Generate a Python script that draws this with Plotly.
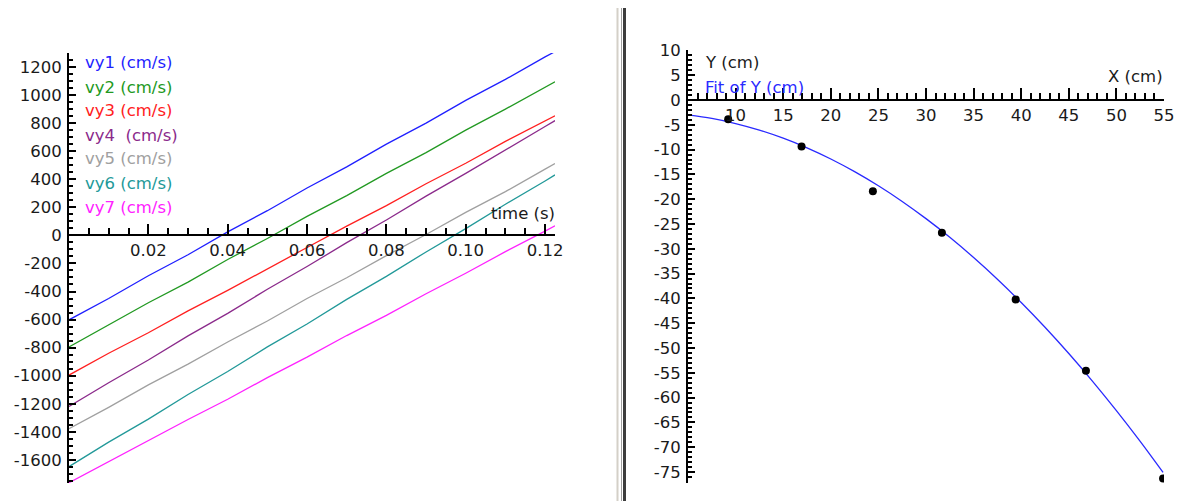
import plotly.graph_objects as go

W, H = 1177, 501

# ---------------- left panel data ----------------
t = [0.0, 0.01, 0.02, 0.03, 0.04, 0.05, 0.06, 0.07, 0.08, 0.09, 0.10, 0.11, 0.12, 0.1225]
vy1 = [-602, -450, -288, -138, 25, 176, 338, 488, 650, 800, 962, 1112, 1272, 1310]
vy2 = [-795, -640, -480, -333, -172, -22, 135, 283, 442, 590, 750, 900, 1058, 1095]
vy3 = [-996, -840, -694, -538, -392, -236, -86, 66, 212, 368, 514, 670, 818, 852]
vy4 = [-1220, -1050, -888, -716, -556, -384, -222, -52, 110, 280, 442, 612, 776, 818]
vy5 = [-1378, -1226, -1066, -918, -760, -610, -450, -302, -144, 6, 164, 312, 472, 512]
vy6 = [-1648, -1474, -1310, -1134, -970, -795, -632, -456, -292, -118, 48, 222, 388, 431]
vy7 = [-1763, -1612, -1466, -1312, -1168, -1014, -868, -714, -570, -416, -270, -116, 30, 68]
series_names = ["vy1 (cm/s)", "vy2 (cm/s)", "vy3 (cm/s)", "vy4\u00a0 (cm/s)",
                "vy5 (cm/s)", "vy6 (cm/s)", "vy7 (cm/s)"]
series_colors = ["#1f1fff", "#229922", "#ff2020", "#8b2a8b", "#a0a0a0", "#229999", "#ff22ff"]
left_xticks = [0.02, 0.04, 0.06, 0.08, 0.10, 0.12]
left_xticktext = ["0.02", "0.04", "0.06", "0.08", "0.10", "0.12"]
left_yticks = [-1600, -1400, -1200, -1000, -800, -600, -400, -200, 0, 200, 400, 600, 800, 1000, 1200]
left_yticktext = ["-1600", "-1400", "-1200", "-1000", "-800", "-600", "-400", "-200", "0",
                  "200", "400", "600", "800", "1000", "1200"]

# ---------------- right panel data ----------------
px_x = [9.22, 16.93, 24.42, 31.67, 39.42, 46.8, 54.9]
px_y = [-3.9, -9.4, -18.4, -26.75, -40.2, -54.6, -76.3]
fit_x = [5, 7.5, 10, 12.5, 15, 17.5, 20, 22.5, 25, 27.5, 30, 32.5, 35, 37.5, 40,
         42.5, 45, 47.5, 50, 52.5, 54.9]
fit_y = [-3.0, -3.72, -4.74, -6.07, -7.70, -9.64, -11.89, -14.44, -17.29, -20.45,
         -23.92, -27.68, -31.76, -36.14, -40.83, -45.82, -51.12, -56.72, -62.63,
         -68.84, -75.1]
right_xticks = [10, 15, 20, 25, 30, 35, 40, 45, 50, 55]
right_xticktext = ["10", "15", "20", "25", "30", "35", "40", "45", "50", "55"]
right_yticks = [-75, -70, -65, -60, -55, -50, -45, -40, -35, -30, -25, -20, -15, -10, -5, 0, 5, 10]
right_yticktext = ["-75", "-70", "-65", "-60", "-55", "-50", "-45", "-40", "-35", "-30",
                   "-25", "-20", "-15", "-10", "-5", "0", "5", "10"]

FONT = "DejaVu Sans, Verdana, sans-serif"
FS = 16.5
TXT = "#1a1a1a"


def fx(p):
    return p / W


def fy(p):
    return 1 - p / H


fig = go.Figure()

for ys, nm, col in zip([vy1, vy2, vy3, vy4, vy5, vy6, vy7], series_names, series_colors):
    fig.add_trace(go.Scatter(x=t, y=ys, mode="lines", name=nm,
                             line=dict(color=col, width=1.3),
                             xaxis="x", yaxis="y", showlegend=False))

fig.add_trace(go.Scatter(x=fit_x, y=fit_y, mode="lines", line=dict(color="#2a2aff", width=1.3, shape="spline"),
                         xaxis="x2", yaxis="y2", showlegend=False))
fig.add_trace(go.Scatter(x=px_x, y=px_y, mode="markers", marker=dict(color="black", size=8),
                         xaxis="x2", yaxis="y2", showlegend=False))

# left geometry
L_x0, L_x1 = 69, 555
L_top, L_bot = 53, 483
L_yr = [-1765, 1300]
L_xr = [0, 0.1225]
L_ydom = [fy(L_bot), fy(L_top)]
L_xpos = L_ydom[0] + (0 - L_yr[0]) / (L_yr[1] - L_yr[0]) * (L_ydom[1] - L_ydom[0])

# right geometry
R_x0, R_x1 = 688, 1164
R_top, R_bot = 50.4, 482.9
R_yr = [-77.2, 10]
R_xr = [5, 55]
R_ydom = [fy(R_bot), fy(R_top)]
R_xpos = R_ydom[0] + (0 - R_yr[0]) / (R_yr[1] - R_yr[0]) * (R_ydom[1] - R_ydom[0])

axis_common = dict(showgrid=False, zeroline=False, showline=True, linecolor="black", linewidth=2,
                   ticks="inside", tickcolor="black", tickwidth=1.5, automargin=False,
                   tickfont=dict(family=FONT, size=FS, color=TXT))
minor_common = dict(ticks="inside", tickcolor="black", tickwidth=1.5, showgrid=False)

fig.update_layout(
    width=W, height=H, autosize=False,
    margin=dict(l=0, r=0, t=0, b=0, pad=0),
    paper_bgcolor="white", plot_bgcolor="rgba(0,0,0,0)",
    xaxis=dict(domain=[fx(L_x0), fx(L_x1)], range=L_xr, anchor="free", position=L_xpos,
               tickmode="array", tickvals=left_xticks, ticktext=left_xticktext, ticklen=10,
               minor=dict(tickmode="array", tickvals=[i * 0.005 for i in range(1, 25)],
                          ticklen=6, **minor_common),
               **axis_common),
    yaxis=dict(domain=L_ydom, range=L_yr, anchor="x", tickmode="array", tickvals=left_yticks,
               ticktext=left_yticktext, ticklen=7, ticklabelstandoff=2,
               minor=dict(tickmode="array", tickvals=[-1750 + 50 * i for i in range(61)],
                          ticklen=4, **minor_common),
               **axis_common),
    xaxis2=dict(domain=[fx(R_x0), fx(R_x1)], range=R_xr, anchor="free", position=R_xpos,
                tickmode="array", tickvals=right_xticks, ticktext=right_xticktext, ticklen=11,
                minor=dict(tickmode="array", tickvals=list(range(6, 56)),
                           ticklen=6, **minor_common),
                **axis_common),
    yaxis2=dict(domain=R_ydom, range=R_yr, anchor="x2", tickmode="array", tickvals=right_yticks,
                ticktext=right_yticktext, ticklen=7, ticklabelstandoff=2,
                minor=dict(tickmode="array", tickvals=list(range(-77, 11)),
                           ticklen=4, **minor_common),
                **axis_common),
)

ann = []
for i, (nm, col) in enumerate(zip(series_names, series_colors)):
    ann.append(dict(x=fx(83), y=fy(63 + i * 24), xref="paper", yref="paper", text=nm,
                    showarrow=False, xanchor="left", yanchor="middle",
                    font=dict(family=FONT, size=FS, color=col)))
ann.append(dict(x=fx(557), y=fy(213), xref="paper", yref="paper", text="time (s)", showarrow=False,
                xanchor="right", yanchor="middle", font=dict(family=FONT, size=FS, color=TXT)))
ann.append(dict(x=fx(1165), y=fy(76), xref="paper", yref="paper", text="X (cm)", showarrow=False,
                xanchor="right", yanchor="middle", font=dict(family=FONT, size=FS, color=TXT)))
ann.append(dict(x=fx(703), y=fy(63), xref="paper", yref="paper", text="Y (cm)", showarrow=False,
                xanchor="left", yanchor="middle", font=dict(family=FONT, size=FS, color=TXT)))
ann.append(dict(x=fx(703), y=fy(87), xref="paper", yref="paper", text="Fit of Y (cm)", showarrow=False,
                xanchor="left", yanchor="middle", font=dict(family=FONT, size=FS, color="#2a2aff")))
fig.update_layout(annotations=ann)

shapes = [
    dict(type="line", xref="paper", yref="paper", x0=fx(617.5), x1=fx(617.5), y0=0, y1=fy(8),
         line=dict(color="#d4d0c8", width=2)),
    dict(type="line", xref="paper", yref="paper", x0=fx(621.5), x1=fx(621.5), y0=0, y1=fy(8),
         line=dict(color="#a0a0a0", width=1)),
    dict(type="line", xref="paper", yref="paper", x0=fx(624.5), x1=fx(624.5), y0=0, y1=fy(8),
         line=dict(color="#3c3c3c", width=3)),
]
fig.update_layout(shapes=shapes)

fig.write_html("out.html",
               config={"displayModeBar": False},
               post_script="document.body.style.margin='0px';document.body.style.overflow='hidden';")
